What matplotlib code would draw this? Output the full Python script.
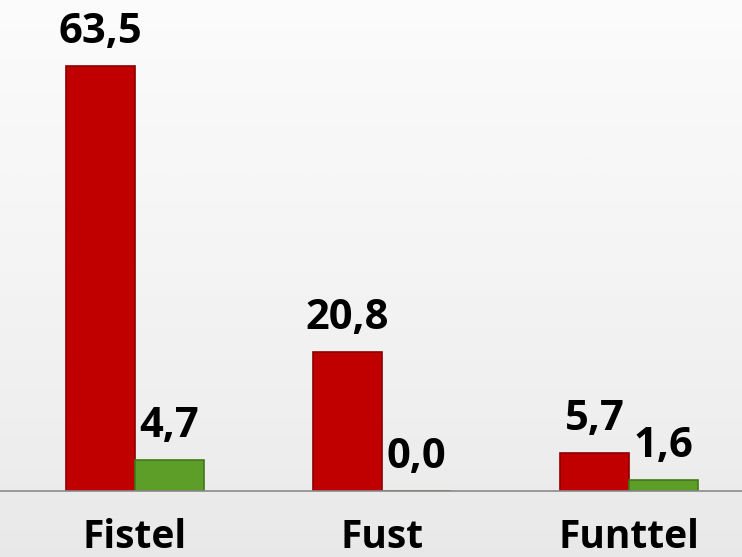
import numpy as np
import matplotlib.pyplot as plt

categories = ['Fistel', 'Fust', 'Funttel']
red_values = [63.5, 20.8, 5.7]
green_values = [4.7, 0.0, 1.6]
red_labels = ['63,5', '20,8', '5,7']
green_labels = ['4,7', '0,0', '1,6']

plt.rcParams['font.family'] = ['Open Sans', 'DejaVu Sans']

fig = plt.figure(figsize=(7.42, 5.57), dpi=100)

# faint grey background, lighter at the top
bg = fig.add_axes([0, 0, 1, 1], zorder=0)
grad = np.linspace(0, 1, 256).reshape(-1, 1)
bg.imshow(grad, cmap='Greys', vmin=-0.2, vmax=7, aspect='auto', extent=[0, 1, 0, 1])
bg.axis('off')

ax = fig.add_axes([0, 1 - 491 / 557, 1, 491 / 557], zorder=1)
ax.patch.set_alpha(0)

x = np.arange(len(categories))
w = 0.279
ax.bar(x - w / 2, red_values, w, color='#C00000', edgecolor='#8E0000', linewidth=1.2)
ax.bar(x + w / 2, green_values, w, color='#5C9E28', edgecolor='#43781A', linewidth=1.2)

for i in range(len(categories)):
    ax.annotate(red_labels[i], (x[i] - w / 2, red_values[i]), xytext=(0, 16.5),
                textcoords='offset points', ha='center', va='baseline',
                fontsize=30, fontweight='bold')
    ax.annotate(green_labels[i], (x[i] + w / 2, green_values[i]), xytext=(0, 16.5),
                textcoords='offset points', ha='center', va='baseline',
                fontsize=30, fontweight='bold')

ax.set_xlim(-135 / 247, 607 / 247)
ax.set_ylim(0, 491 / (425 / 63.5))
ax.set_yticks([])
ax.set_xticks(x)
ax.set_xticklabels(categories, fontsize=28, fontweight='bold')
ax.tick_params(axis='x', length=0, pad=19.5)
for s in ['top', 'right', 'left']:
    ax.spines[s].set_visible(False)
ax.spines['bottom'].set_color('#8a8a8a')
ax.spines['bottom'].set_linewidth(1.2)

fig.savefig('out.png', dpi=100)
